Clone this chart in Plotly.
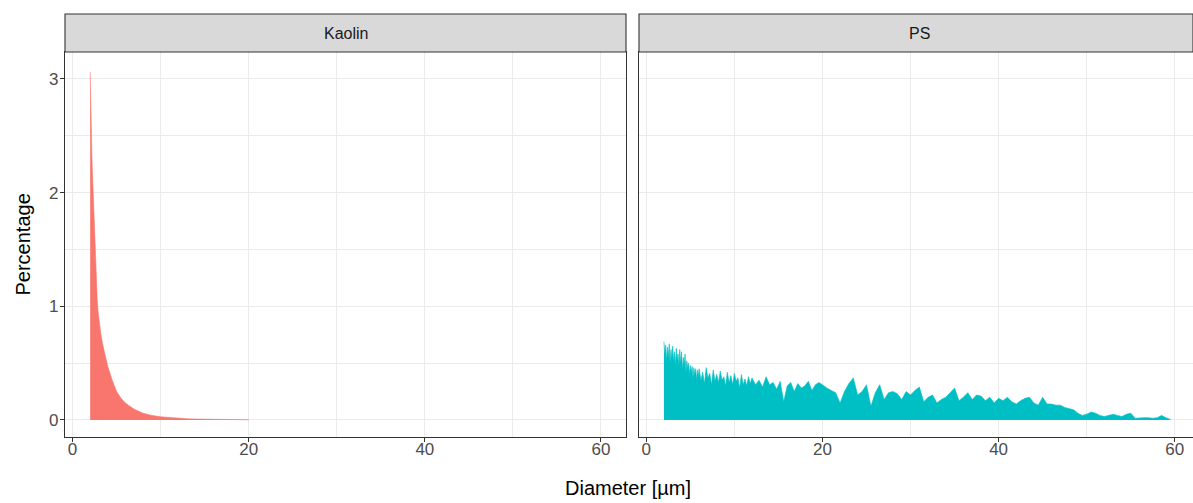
import plotly.graph_objects as go

# ---------------- data ----------------
kaolin_d = [2.0, 2.1, 2.2, 2.3, 2.4, 2.5, 2.6, 2.7, 2.8, 2.9, 3.0, 3.2, 3.4, 3.6, 3.8, 4.0,
            4.5, 5.0, 5.5, 6.0, 6.5, 7.0, 8.0, 9.0, 10.0, 11.0, 12.0, 13.0, 14.0, 15.0,
            16.0, 17.0, 18.0, 19.0, 20.0]
kaolin_pct = [3.06, 2.6, 2.3, 2.08, 1.85, 1.6, 1.4, 1.22, 1.06, 0.95, 0.87, 0.76, 0.67, 0.6,
              0.53, 0.47, 0.35, 0.25, 0.19, 0.15, 0.12, 0.095, 0.06, 0.04, 0.028, 0.02,
              0.014, 0.01, 0.008, 0.006, 0.0045, 0.0035, 0.0025, 0.0015, 0.001]

ps_d = [2.0, 2.1, 2.2, 2.3, 2.4, 2.5, 2.6, 2.7, 2.8, 2.9, 3.0, 3.1, 3.2, 3.3, 3.4, 3.5, 3.6,
        3.7, 3.8, 3.9, 4.0, 4.1, 4.2, 4.3, 4.4, 4.5, 4.6, 4.7, 4.8, 4.9, 5.0, 5.1, 5.2, 5.3,
        5.4, 5.5, 5.6, 5.7, 5.8, 5.9,
        6.0, 6.2, 6.4, 6.6, 6.8, 7.0, 7.2, 7.4, 7.6, 7.8, 8.0, 8.2, 8.4, 8.6, 8.8, 9.0, 9.2,
        9.4, 9.6, 9.8, 10.0, 10.2, 10.4, 10.6, 10.8, 11.0, 11.2, 11.4, 11.6, 11.8,
        12.0, 12.4, 12.8, 13.2, 13.6, 14.0, 14.4, 14.8, 15.2, 15.6, 16.0, 16.4, 16.8, 17.2,
        17.6, 18.0, 18.4, 18.8, 19.2, 19.6,
        20.0, 20.5, 21.0, 21.5, 22.0, 22.5, 23.0, 23.5, 24.0, 24.5, 25.0, 25.5, 26.0, 26.5,
        27.0, 27.5, 28.0, 28.5, 29.0, 29.5, 30.0, 30.5, 31.0, 31.5, 32.0, 32.5, 33.0, 33.5,
        34.0, 34.5, 35.0, 35.5, 36.0, 36.5, 37.0, 37.5, 38.0, 38.5, 39.0, 39.5, 40.0, 40.5,
        41.0, 41.5, 42.0, 42.5, 43.0, 43.5, 44.0, 44.5, 45.0, 45.5, 46.0, 46.5, 47.0, 47.5,
        48.0, 48.5, 49.0, 49.5, 50.0, 50.5, 51.0, 51.5, 52.0, 52.5, 53.0, 53.5, 54.0, 54.5,
        55.0, 55.5, 56.0, 56.5, 57.0, 57.5, 58.0, 58.5, 59.0, 59.5]
ps_pct = [0.69, 0.58, 0.66, 0.52, 0.64, 0.55, 0.67, 0.50, 0.62, 0.54, 0.65, 0.51, 0.60, 0.47,
          0.63, 0.53, 0.58, 0.48, 0.62, 0.50, 0.60, 0.44, 0.55, 0.48, 0.58, 0.42, 0.52, 0.46,
          0.50, 0.40, 0.48, 0.42, 0.47, 0.37, 0.46, 0.40, 0.45, 0.35, 0.44, 0.38,
          0.45, 0.35, 0.42, 0.32, 0.46, 0.37, 0.41, 0.31, 0.44, 0.34, 0.40, 0.33, 0.43, 0.35,
          0.38, 0.30, 0.42, 0.33, 0.39, 0.31, 0.41, 0.34, 0.37, 0.28, 0.40, 0.31, 0.36, 0.30,
          0.38, 0.32,
          0.37, 0.31, 0.35, 0.29, 0.38, 0.31, 0.33, 0.27, 0.34, 0.16, 0.30, 0.33, 0.25, 0.32,
          0.28, 0.30, 0.34, 0.26, 0.31, 0.33,
          0.31, 0.28, 0.26, 0.24, 0.15, 0.25, 0.32, 0.37, 0.22, 0.25, 0.31, 0.12, 0.24, 0.31,
          0.18, 0.24, 0.25, 0.23, 0.18, 0.25, 0.22, 0.26, 0.29, 0.16, 0.20, 0.22, 0.15, 0.18,
          0.20, 0.24, 0.28, 0.17, 0.20, 0.24, 0.18, 0.22, 0.21, 0.17, 0.20, 0.15, 0.19, 0.17,
          0.20, 0.16, 0.14, 0.17, 0.19, 0.20, 0.15, 0.13, 0.20, 0.14, 0.14, 0.13, 0.13, 0.11,
          0.10, 0.09, 0.06, 0.04, 0.05, 0.07, 0.06, 0.04, 0.03, 0.04, 0.05, 0.04, 0.03, 0.05,
          0.06, 0.015, 0.02, 0.02, 0.02, 0.015, 0.02, 0.04, 0.02, 0.005]

panels = ["Kaolin", "PS"]
colors = ["#F8766D", "#00BFC4"]
x_ticks = [0, 20, 40, 60]
y_ticks = [0, 1, 2, 3]

# ---------------- layout geometry ----------------
W, H = 1193, 503
ML, MR, MT, MB = 65, 0, 52, 66
PW = W - ML - MR
PH = H - MT - MB
left_dom = [0, 561 / PW]
right_dom = [(639 - ML) / PW, 1.0]
strip_h = 38 / PH
FONT = "Liberation Sans, Arial, sans-serif"

fig = go.Figure()
fig.add_trace(go.Scatter(x=kaolin_d, y=kaolin_pct, mode="lines", fill="tozeroy",
                         line=dict(color=colors[0], width=0.6), fillcolor=colors[0],
                         xaxis="x", yaxis="y", showlegend=False, hoverinfo="skip"))
fig.add_trace(go.Scatter(x=ps_d, y=ps_pct, mode="lines", fill="tozeroy",
                         line=dict(color=colors[1], width=0.6), fillcolor=colors[1],
                         xaxis="x2", yaxis="y2", showlegend=False, hoverinfo="skip"))

grid = "#EBEBEB"
border = "#333333"
tickfont = dict(family=FONT, size=17, color="#4D4D4D")

common_x = dict(tickvals=x_ticks, showgrid=True, gridcolor=grid, gridwidth=1.1,
                zeroline=False, showline=True, linecolor=border, linewidth=1.1, mirror=True,
                ticks="outside", ticklen=4, tickcolor=border, tickwidth=1.1,
                tickfont=tickfont, ticklabelstandoff=-7,
                minor=dict(tickvals=[10, 30, 50], showgrid=True, gridcolor=grid, gridwidth=0.6))
common_y = dict(range=[-0.15, 3.237], tickvals=y_ticks, showgrid=True, gridcolor=grid,
                gridwidth=1.1, zeroline=False, showline=True, linecolor=border, linewidth=1.1,
                mirror=True, domain=[0, 1],
                minor=dict(tickvals=[0.5, 1.5, 2.5], showgrid=True, gridcolor=grid, gridwidth=0.6))

fig.update_layout(
    width=W, height=H,
    margin=dict(l=ML, r=MR, t=MT, b=MB),
    plot_bgcolor="white", paper_bgcolor="white",
    xaxis=dict(common_x, domain=left_dom, range=[-0.86, 62.84], anchor="y"),
    xaxis2=dict(common_x, domain=right_dom, range=[-0.83, 62.07], anchor="y2"),
    yaxis=dict(common_y, anchor="x", ticks="outside", ticklen=4, tickcolor=border,
               tickwidth=1.1, tickfont=tickfont, ticklabelstandoff=-2),
    yaxis2=dict(common_y, anchor="x2", showticklabels=False, ticks=""),
    font=dict(family=FONT),
)

# strips
strip_centers = [(left_dom[0] + left_dom[1]) / 2, ((639 + 1200) / 2 - ML) / PW]
for name, dom, xc in zip(panels, [left_dom, right_dom], strip_centers):
    fig.add_shape(type="rect", xref="paper", yref="paper",
                  x0=dom[0], x1=dom[1], y0=1, y1=1 + strip_h,
                  fillcolor="#D9D9D9", line=dict(color=border, width=1.1), layer="above")
    fig.add_annotation(xref="paper", yref="paper", x=xc,
                       y=1 + strip_h / 2, text=name, showarrow=False,
                       font=dict(size=16, color="#1A1A1A", family=FONT),
                       xanchor="center", yanchor="middle")

# axis titles
fig.add_annotation(xref="paper", yref="paper", x=(628 - ML) / PW, y=-(488 - MT - PH) / PH,
                   text="Diameter [µm]", showarrow=False, xanchor="center", yanchor="middle",
                   font=dict(size=20, color="black", family=FONT))
fig.add_annotation(xref="paper", yref="paper", x=(22 - ML) / PW, y=0.5,
                   text="Percentage", showarrow=False, textangle=-90,
                   xanchor="center", yanchor="middle",
                   font=dict(size=20, color="black", family=FONT))

fig.write_html("out.html")
